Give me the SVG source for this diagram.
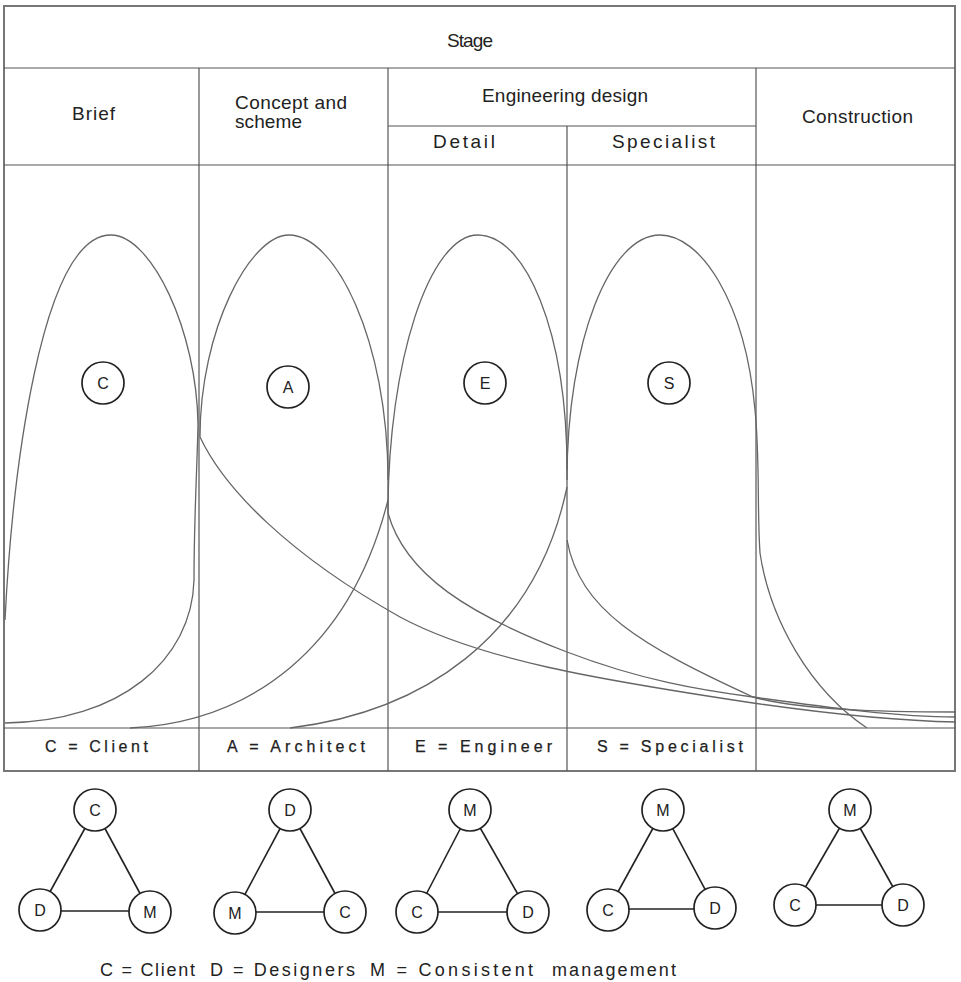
<svg xmlns="http://www.w3.org/2000/svg" width="961" height="982" viewBox="0 0 961 982">
<style>
.frame{fill:none;stroke:#777;stroke-width:2}
.grid{fill:none;stroke:#555;stroke-width:1.2}
.curve{fill:none;stroke:#666;stroke-width:1.3}
.hdr{font-family:"Liberation Sans",Arial,sans-serif;font-size:19px;fill:#222}
.lab{font-family:"Liberation Sans",Arial,sans-serif;font-size:16px;fill:#222;stroke:#222;stroke-width:0.25}
.node circle{fill:#fff;stroke:#222;stroke-width:1.7}
.node text{font-family:"Liberation Sans",Arial,sans-serif;font-size:16px;fill:#222;text-anchor:middle}
.edge{stroke:#222;stroke-width:1.6}
.leg{font-family:"Liberation Sans",Arial,sans-serif;font-size:18px;fill:#222}
</style>
<rect width="961" height="982" fill="#fff"/>

<!-- table -->
<g id="table">
<rect class="frame" x="4" y="6" width="951" height="765"/>
<line class="grid" x1="4" y1="68" x2="955" y2="68"/>
<line class="grid" x1="388" y1="126" x2="756" y2="126"/>
<line class="grid" x1="4" y1="165" x2="955" y2="165"/>
<line class="grid" x1="4" y1="728" x2="955" y2="728"/>
<line class="grid" x1="199" y1="68" x2="199" y2="771"/>
<line class="grid" x1="388" y1="68" x2="388" y2="771"/>
<line class="grid" x1="567" y1="126" x2="567" y2="771"/>
<line class="grid" x1="756" y1="68" x2="756" y2="771"/>
<text class="hdr" x="447" y="47" textLength="46">Stage</text>
<text class="hdr" x="72" y="120" textLength="43">Brief</text>
<text class="hdr" x="235" y="109" textLength="112">Concept and</text>
<text class="hdr" x="235" y="128" textLength="67">scheme</text>
<text class="hdr" x="482" y="102" textLength="166">Engineering design</text>
<text class="hdr" x="433" y="148" textLength="62">Detail</text>
<text class="hdr" x="612" y="148" textLength="103">Specialist</text>
<text class="hdr" x="802" y="123" textLength="111">Construction</text>
<text class="lab" x="45" y="752" textLength="103">C = Client</text>
<text class="lab" x="227" y="752" textLength="138">A = Architect</text>
<text class="lab" x="415" y="752" textLength="137">E = Engineer</text>
<text class="lab" x="597" y="752" textLength="146">S = Specialist</text>
</g>

<!-- influence curves -->
<g id="curves">
<!-- C -->
<path class="curve" d="M5,620 C12,480 40,235 111,235 C151,235 197,330 198,425 C197,470 194,520 194,580 C192,660 120,722 5,723"/>
<!-- A -->
<path class="curve" d="M130,728 C250,722 350,650 388,500"/>
<path class="curve" d="M388,480 C388,340 335,235 289,235 C250,235 200,330 200,437 C225,490 290,555 400,617 C480,660 600,680 753,703 C830,714 900,721 956,722"/>
<!-- E -->
<path class="curve" d="M290,728 C420,712 535,640 567,487"/>
<path class="curve" d="M567,470 C567,330 525,235 478,235 C430,235 388,360 388,513 C405,575 470,615 567,652 C640,680 700,690 753,697 C830,708 900,717 956,717"/>
<!-- S -->
<path class="curve" d="M567,540 C580,610 640,645 753,697 C800,710 880,712 956,712"/>
<path class="curve" d="M567,480 C567,340 610,235 660,235 C700,235 745,300 755,410 C760,460 757,510 760,553 C770,620 810,690 867,728"/>
</g>

<!-- lobe labels -->
<g id="lobe-C" class="node"><circle cx="103" cy="383" r="21"/><text x="103" y="389">C</text></g>
<g id="lobe-A" class="node"><circle cx="288" cy="387" r="21"/><text x="288" y="393">A</text></g>
<g id="lobe-E" class="node"><circle cx="485" cy="383" r="21"/><text x="485" y="389">E</text></g>
<g id="lobe-S" class="node"><circle cx="669" cy="383" r="21"/><text x="669" y="389">S</text></g>

<!-- triangle connectors -->
<g id="connectors">
<line class="edge" x1="95" y1="810" x2="40" y2="910"/>
<line class="edge" x1="95" y1="810" x2="150" y2="912"/>
<line class="edge" x1="40" y1="911" x2="150" y2="911"/>
<line class="edge" x1="290" y1="810" x2="235" y2="913"/>
<line class="edge" x1="290" y1="810" x2="345" y2="912"/>
<line class="edge" x1="235" y1="912" x2="345" y2="912"/>
<line class="edge" x1="470" y1="810" x2="417" y2="912"/>
<line class="edge" x1="470" y1="810" x2="528" y2="912"/>
<line class="edge" x1="417" y1="912" x2="528" y2="912"/>
<line class="edge" x1="663" y1="810" x2="608" y2="910"/>
<line class="edge" x1="663" y1="810" x2="715" y2="908"/>
<line class="edge" x1="608" y1="909" x2="715" y2="909"/>
<line class="edge" x1="850" y1="810" x2="795" y2="905"/>
<line class="edge" x1="850" y1="810" x2="903" y2="905"/>
<line class="edge" x1="795" y1="905" x2="903" y2="905"/>
</g>

<!-- triangle nodes -->
<g id="t1-C" class="node"><circle cx="95" cy="810" r="21"/><text x="95" y="816">C</text></g>
<g id="t1-D" class="node"><circle cx="40" cy="910" r="21"/><text x="40" y="916">D</text></g>
<g id="t1-M" class="node"><circle cx="150" cy="912" r="21"/><text x="150" y="918">M</text></g>

<g id="t2-D" class="node"><circle cx="290" cy="810" r="21"/><text x="290" y="816">D</text></g>
<g id="t2-M" class="node"><circle cx="235" cy="913" r="21"/><text x="235" y="919">M</text></g>
<g id="t2-C" class="node"><circle cx="345" cy="912" r="21"/><text x="345" y="918">C</text></g>

<g id="t3-M" class="node"><circle cx="470" cy="810" r="21"/><text x="470" y="816">M</text></g>
<g id="t3-C" class="node"><circle cx="417" cy="912" r="21"/><text x="417" y="918">C</text></g>
<g id="t3-D" class="node"><circle cx="528" cy="912" r="21"/><text x="528" y="918">D</text></g>

<g id="t4-M" class="node"><circle cx="663" cy="810" r="21"/><text x="663" y="816">M</text></g>
<g id="t4-C" class="node"><circle cx="608" cy="910" r="21"/><text x="608" y="916">C</text></g>
<g id="t4-D" class="node"><circle cx="715" cy="908" r="21"/><text x="715" y="914">D</text></g>

<g id="t5-M" class="node"><circle cx="850" cy="810" r="21"/><text x="850" y="816">M</text></g>
<g id="t5-C" class="node"><circle cx="795" cy="905" r="21"/><text x="795" y="911">C</text></g>
<g id="t5-D" class="node"><circle cx="903" cy="905" r="21"/><text x="903" y="911">D</text></g>

<!-- legend -->
<g id="legend">
<text class="leg" x="100" y="976" textLength="95">C = Client</text>
<text class="leg" x="210" y="976" textLength="145">D = Designers</text>
<text class="leg" x="370" y="976" textLength="163">M = Consistent</text>
<text class="leg" x="552" y="976" textLength="124">management</text>
</g>
</svg>
